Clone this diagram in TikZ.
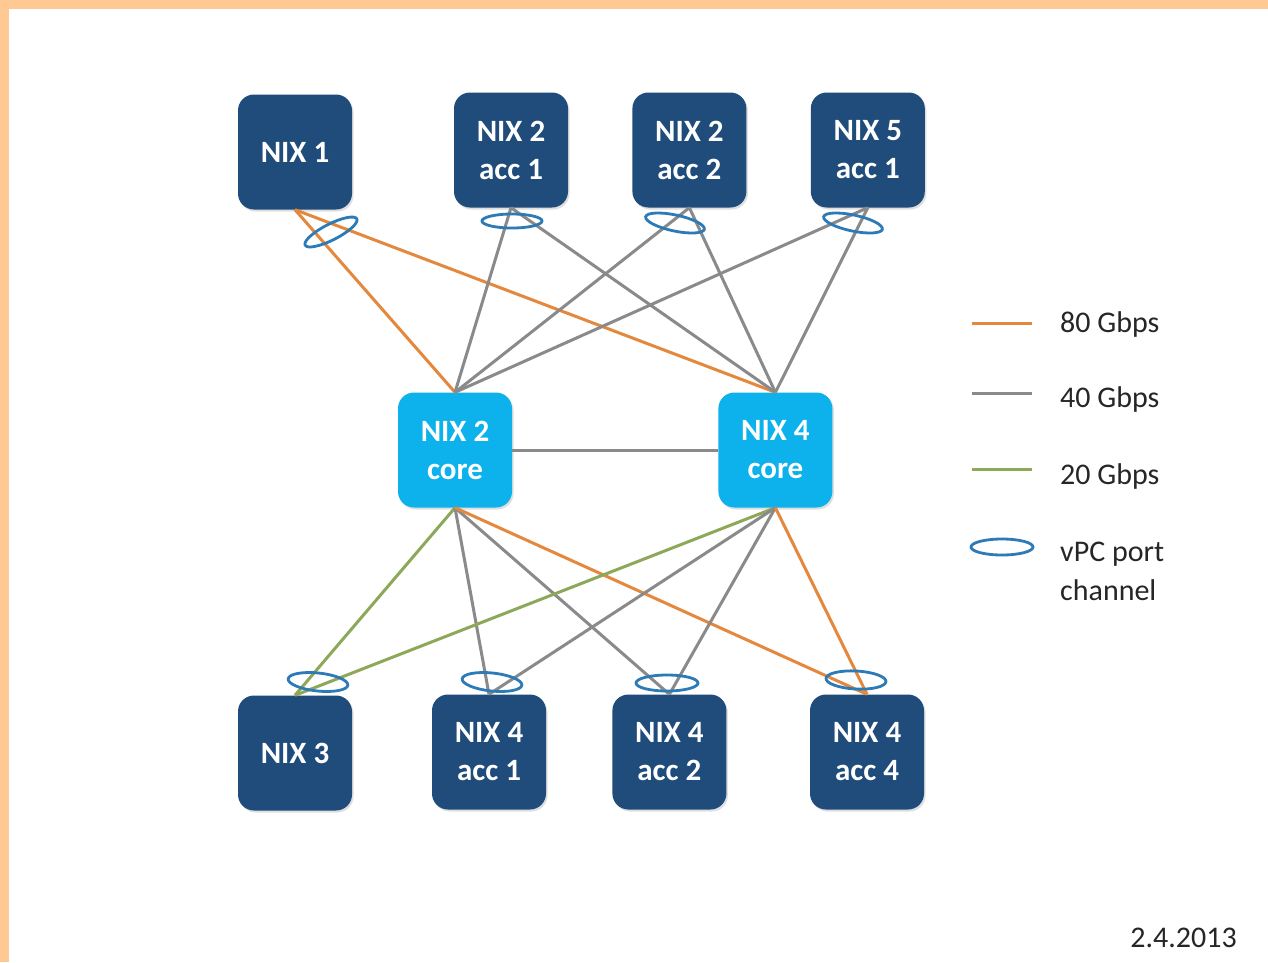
\documentclass[tikz,border=0pt]{standalone}
\usepackage{fontspec}
\setmainfont{Carlito}
\usetikzlibrary{positioning,shadows}

\definecolor{nixdark}{HTML}{1F4C7A}
\definecolor{nixcore}{HTML}{0DB2EC}
\definecolor{link80}{HTML}{E3883C}
\definecolor{link40}{HTML}{8A8A8A}
\definecolor{link20}{HTML}{8EA85A}
\definecolor{vpcblue}{HTML}{2C7BB6}
\definecolor{slideframe}{HTML}{FFC994}

\tikzset{
  box/.style = {rectangle, rounded corners=16pt, minimum width=114pt,
    minimum height=115pt, inner sep=0pt, align=center, text=white,
    font=\fontsize{31}{38}\selectfont\bfseries,
    drop shadow={shadow xshift=1.5pt, shadow yshift=-2pt, opacity=0.25}},
  acc/.style = {box, fill=nixdark},
  core/.style = {box, fill=nixcore},
  l80/.style = {draw=link80, line width=3pt},
  l40/.style = {draw=link40, line width=3pt},
  l20/.style = {draw=link20, line width=3pt},
  vpc/.style = {draw=vpcblue, line width=2.8pt},
  legend/.style = {anchor=base west, inner sep=0pt, text=black!85,
    font=\fontsize{30}{39}\selectfont},
}

\begin{document}
\begin{tikzpicture}[x=1pt, y=-1pt]
    \useasboundingbox (0,0) rectangle (1268,962);
    \fill[slideframe] (0,0) rectangle (1268,962);
    \fill[white] (9,9) rectangle (1268,962);

    % switches
    \node[acc] (nix1) at (295,152) {NIX 1};
    \node[acc] (n2a1) at (511,150) {NIX 2\\acc 1};
    \node[acc, right = 64pt of n2a1] (n2a2) {NIX 2\\acc 2};
    \node[acc, right = 64pt of n2a2] (n5a1) {NIX 5\\acc 1};
    \node[core] (n2c) at (455,450) {NIX 2\\core};
    \node[core, right = 206pt of n2c] (n4c) {NIX 4\\core};
    \node[acc] (nix3) at (295,753) {NIX 3};
    \node[acc] (n4a1) at (489,752) {NIX 4\\acc 1};
    \node[acc, right = 66pt of n4a1] (n4a2) {NIX 4\\acc 2};
    \node[acc] (n4a4) at (867,752) {NIX 4\\acc 4};

    % links
    \draw[l80] (nix1.south) -- (n2c.north);
    \draw[l80] (nix1.south) -- (n4c.north);
    \foreach \src in {n2a1,n2a2,n5a1} {
      \draw[l40] (\src.south) -- (n2c.north);
      \draw[l40] (\src.south) -- (n4c.north);
    }
    \draw[l40] (n2c) -- (n4c);
    \foreach \core in {n2c,n4c} {
      \draw[l20] (\core.south) -- (nix3.north);
      \draw[l40] (\core.south) -- (n4a1.north);
      \draw[l40] (\core.south) -- (n4a2.north);
      \draw[l80] (\core.south) -- (n4a4.north);
    }

    % vpc port channels
    \draw[vpc, rotate around={27:(331,232)}] (331,232) ellipse (29 and 8);
    \draw[vpc] (512,221) ellipse (30 and 7);
    \draw[vpc, rotate around={-12:(675,223)}] (675,223) ellipse (30 and 8);
    \draw[vpc, rotate around={-12:(853,223)}] (853,223) ellipse (30 and 8);
    \draw[vpc, rotate around={-6:(318,682)}] (318,682) ellipse (30 and 9);
    \draw[vpc, rotate around={-6:(492,682)}] (492,682) ellipse (30 and 9);
    \draw[vpc] (667,683) ellipse (31 and 8);
    \draw[vpc, rotate around={-3:(856,680)}] (856,680) ellipse (30 and 9);

    % legend
    \draw[l80] (972,323) -- ++(60,0);
    \node[legend] (t80) at (1060,332) {80 Gbps};
    \draw[l40] (972,393) -- ++(60,0);
    \node[legend] (t40) at (1060,407) {40 Gbps};
    \draw[l20] (972,469) -- ++(60,0);
    \node[legend] (t20) at (1060,484) {20 Gbps};
    \draw[vpc] (1002,547) ellipse (31 and 8);
    \node[legend, anchor=west, align=left] (tvpc) at (1060,571) {vPC port\\channel};

    \node[legend, anchor=base east] (date) at (1237,947) {2.4.2013};
\end{tikzpicture}
\end{document}
